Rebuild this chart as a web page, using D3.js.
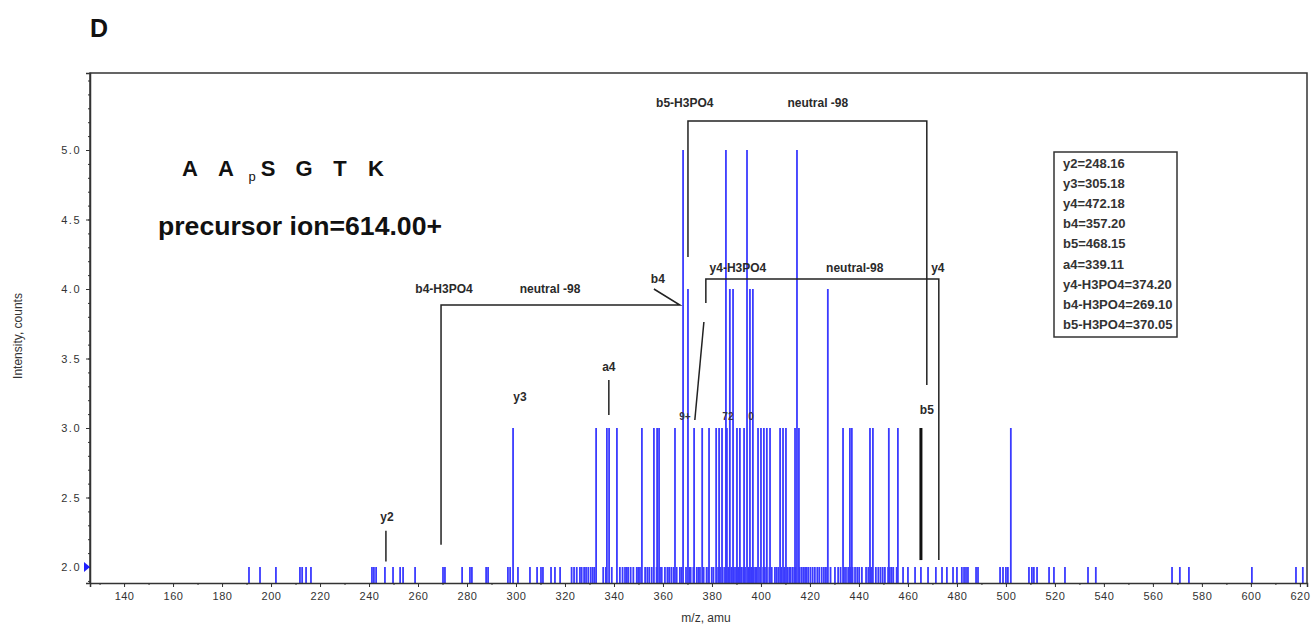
<!DOCTYPE html>
<html>
<head>
<meta charset="utf-8">
<script src="https://cdn.jsdelivr.net/npm/d3@7"></script>
<style>
  body { margin: 0; background: #fff; }
  text { font-family: "Liberation Sans", Arial, sans-serif; }
</style>
</head>
<body>
<div id="chart"></div>
<script>
//
// MS/MS spectrum of AApSGTK, stick plot with fragment annotations
//

// peak m/z values grouped by intensity level (counts)
const peaksAt2 = [191.0, 195.5, 202.0, 211.8, 212.7, 214.3, 216.3, 241.2, 242.0, 242.9, 246.5, 249.8,
  252.7, 253.9, 258.8, 270.2, 271.0, 278.0, 281.2, 282.0, 287.8, 288.6, 296.7, 297.6, 300.8, 305.7,
  308.6, 310.2, 311.0, 314.3, 315.9, 318.0, 322.7, 323.7, 324.8, 326.1, 326.8, 327.8, 328.6, 329.5,
  330.5, 331.3, 332.0, 335.6, 336.7, 339.1, 342.4, 343.5, 344.5, 345.2, 345.8, 346.8, 347.9, 349.3,
  349.9, 350.6, 352.7, 353.6, 354.4, 355.4, 357.4, 358.8, 359.5, 360.8, 361.8, 362.5, 363.4, 364.3,
  365.6, 366.9, 367.6, 369.4, 370.8, 371.3, 372.4, 373.8, 374.5, 375.1, 376.6, 377.8, 378.5, 379.9,
  380.6, 381.9, 382.6, 383.3, 384.4, 385.3, 386.6, 387.9, 388.7, 389.4, 390.1, 390.7, 391.4, 392.1,
  392.8, 393.5, 394.8, 395.5, 396.2, 396.9, 397.6, 398.2, 399.6, 400.9, 401.6, 402.3, 403.4, 404.4,
  405.7, 406.4, 407.1, 408.3, 409.5, 410.7, 411.5, 412.1, 412.9, 413.6, 414.1, 415.8, 416.6, 417.3,
  418.0, 418.6, 419.3, 420.2, 421.1, 422.0, 423.0, 423.8, 424.8, 425.7, 426.5, 427.1, 428.4, 430.2,
  431.5, 432.5, 433.9, 434.7, 435.6, 436.4, 437.4, 438.4, 439.3, 440.1, 441.2, 442.9, 443.8, 444.8,
  445.3, 446.9, 447.9, 448.8, 449.7, 450.6, 451.9, 452.6, 453.3, 454.0, 455.4, 458.0, 460.0, 462.9,
  465.3, 468.2, 471.4, 473.9, 475.9, 478.4, 480.0, 482.0, 482.9, 483.7, 484.5, 487.8, 488.6, 497.6,
  498.8, 500.0, 500.8, 509.4, 510.6, 511.4, 512.7, 517.6, 519.6, 524.1, 533.5, 536.7, 567.8, 571.0,
  574.7, 600.4, 618.4, 621.2]
const peaksAt3 = [298.8, 332.7, 337.1, 338.0, 341.2, 351.4, 356.3, 357.6, 358.4, 364.9, 372.7, 376.0,
  378.8, 381.7, 382.9, 384.1, 386.1, 390.2, 391.4, 393.1, 398.8, 400.0, 401.2, 402.4, 403.7, 407.8,
  409.0, 410.2, 413.9, 415.5, 433.5, 436.3, 437.1, 444.5, 445.7, 452.2, 455.9, 502.0]
const peaksAt4 = [370.2, 387.3, 388.6, 395.5, 396.7, 427.3]
const peaksAt5 = [368.2, 385.7, 394.3, 414.7]

// axis ticks
const xTicks = d3.range(140, 621, 20)
const xMinor = d3.range(130, 621, 10)
const yTicks = [2.0, 2.5, 3.0, 3.5, 4.0, 4.5, 5.0]
const yMinor = d3.range(19, 56).map(d => d / 10)

// fragment ion list shown in the box
const ionList = ["y2=248.16", "y3=305.18", "y4=472.18", "b4=357.20", "b5=468.15", "a4=339.11",
  "y4-H3PO4=374.20", "b4-H3PO4=269.10", "b5-H3PO4=370.05"]

// annotation polylines, in [m/z, intensity]
const annoLines = [
  [[246.9, 2.04], [246.9, 2.26]],                                   // y2
  [[269.4, 2.16], [269.4, 3.885], [366.9, 3.885], [356.3, 4.0]],    // b4-H3PO4 -> b4
  [[337.9, 3.094], [337.9, 3.345]],                                 // a4
  [[370.2, 4.23], [370.2, 5.209], [467.7, 5.209], [467.7, 3.31]],   // b5-H3PO4 -> b5
  [[377.5, 3.9], [377.5, 4.072], [472.6, 4.072], [472.6, 2.05]],    // y4-H3PO4 -> y4
  [[376.7, 3.763], [373.0, 3.058]]
]
const annoLabels = [
  ["y2", 247.3, 2.36], ["b4-H3PO4", 270.6, 4.0], ["neutral -98", 313.9, 4.0], ["b4", 357.9, 4.07],
  ["a4", 337.9, 3.44], ["y3", 301.6, 3.22], ["b5-H3PO4", 368.9, 5.338], ["neutral -98", 423.2, 5.338],
  ["b5", 467.7, 3.13], ["y4-H3PO4", 390.6, 4.151], ["neutral-98", 438.3, 4.151], ["y4", 472.2, 4.151]
]
const faintLabels = [["9+", 369.0, 3.08], ["72", 386.5, 3.08], ["0", 395.9, 3.08]]

// peptide sequence letters (p = phospho marker)
const seqLetters = ["A", "A", "p", "S", "G", "T", "K"]
const seqX = [190, 226, 252, 268, 304, 340, 376]

const W = 1312, H = 625
const plot = { left: 90, right: 1307, top: 73, bottom: 583 }

const svg = d3.select("#chart").append("svg")
  .attr("width", W).attr("height", H)

const x = d3.scaleLinear().domain([126.1, 622.9]).range([plot.left, plot.right])
const y = d3.scaleLinear().domain([1.885, 5.554]).range([plot.bottom, plot.top])

// frame
svg.append("path")
  .attr("d", `M${plot.left},${plot.bottom}V${plot.top}H${plot.right}V${plot.bottom}`)
  .attr("fill", "none").attr("stroke", "#333").attr("stroke-width", 1.5)

// peaks
const peaks = []
peaksAt2.forEach(m => peaks.push({ mz: m, v: 2.0 }))
peaksAt3.forEach(m => peaks.push({ mz: m, v: 3.0 }))
peaksAt4.forEach(m => peaks.push({ mz: m, v: 4.0 }))
peaksAt5.forEach(m => peaks.push({ mz: m, v: 5.0 }))

svg.append("g").selectAll("line")
  .data(peaks)
  .enter()
  .append("line")
    .attr("x1", d => x(d.mz)).attr("x2", d => x(d.mz))
    .attr("y1", y(1.885)).attr("y2", d => y(d.v))
    .attr("stroke", "#3b3bff").attr("stroke-width", 1.8)

// axes
const xAxis = svg.append("g")
  .attr("transform", `translate(0,${plot.bottom})`)
  .call(d3.axisBottom(x).tickValues(xTicks).tickSize(4).tickFormat(d3.format("d")))
svg.append("g")
  .attr("transform", `translate(0,${plot.bottom})`)
  .call(d3.axisBottom(x).tickValues(xMinor).tickSize(2).tickFormat(""))
  .call(g => g.select(".domain").remove())
const yAxis = svg.append("g")
  .attr("transform", `translate(${plot.left},0)`)
  .call(d3.axisLeft(y).tickValues(yTicks).tickSize(4).tickFormat(d3.format(".1f")))
svg.append("g")
  .attr("transform", `translate(${plot.left},0)`)
  .call(d3.axisLeft(y).tickValues(yMinor).tickSize(2).tickFormat(""))
  .call(g => g.select(".domain").remove())

svg.selectAll(".domain").attr("stroke", "#333").attr("stroke-width", 1.5)
svg.selectAll(".tick line").attr("stroke", "#333")
xAxis.selectAll("text")
  .attr("dy", "0.9em")
  .style("font-size", "11px").style("fill", "#333").style("letter-spacing", "0.5px")
yAxis.selectAll("text")
  .attr("dx", "-2px")
  .style("font-size", "11px").style("fill", "#333").style("letter-spacing", "1.5px")

// blue marker on the y axis
svg.append("path")
  .attr("d", `M${plot.left - 6},${y(2.0) - 5}L${plot.left},${y(2.0)}L${plot.left - 6},${y(2.0) + 5}Z`)
  .attr("fill", "#2020ff")

// axis titles
svg.append("text")
  .attr("transform", `translate(22,${(plot.top + plot.bottom) / 2 + 8}) rotate(-90)`)
  .attr("text-anchor", "middle")
  .style("font-size", "12px").style("fill", "#333")
  .text("Intensity, counts")
svg.append("text")
  .attr("x", 706).attr("y", 622)
  .attr("text-anchor", "middle")
  .style("font-size", "12px").style("fill", "#333")
  .text("m/z, amu")

// annotations
const line = d3.line().x(d => x(d[0])).y(d => y(d[1]))
svg.append("g").selectAll("path")
  .data(annoLines)
  .enter()
  .append("path")
    .attr("d", line)
    .attr("fill", "none").attr("stroke", "#222").attr("stroke-width", 1.5)

// b5 marker stick
svg.append("line")
  .attr("x1", x(465.3)).attr("x2", x(465.3))
  .attr("y1", y(3.0)).attr("y2", y(2.05))
  .attr("stroke", "#111").attr("stroke-width", 3)

svg.append("g").selectAll("text")
  .data(annoLabels)
  .enter()
  .append("text")
    .attr("x", d => x(d[1])).attr("y", d => y(d[2]))
    .attr("text-anchor", "middle").attr("dominant-baseline", "central")
    .style("font-size", "12px").style("font-weight", "bold").style("fill", "#2a2a2a")
    .text(d => d[0])

svg.append("g").selectAll("text")
  .data(faintLabels)
  .enter()
  .append("text")
    .attr("x", d => x(d[1])).attr("y", d => y(d[2]))
    .attr("text-anchor", "middle").attr("dominant-baseline", "central")
    .style("font-size", "10px").style("font-weight", "bold").style("fill", "#334")
    .text(d => d[0])

// panel letter, sequence and precursor
svg.append("text")
  .attr("x", 90).attr("y", 37)
  .style("font-size", "25px").style("font-weight", "bold").style("fill", "#111")
  .text("D")

svg.append("g").selectAll("text")
  .data(seqLetters)
  .enter()
  .append("text")
    .attr("x", (d, i) => seqX[i])
    .attr("y", d => d === "p" ? 181 : 176)
    .attr("text-anchor", "middle")
    .style("font-size", d => d === "p" ? "13px" : "22px")
    .style("font-weight", d => d === "p" ? "normal" : "bold")
    .style("fill", "#111")
    .text(d => d)

svg.append("text")
  .attr("x", 158).attr("y", 235)
  .attr("textLength", 284).attr("lengthAdjust", "spacingAndGlyphs")
  .style("font-size", "26px").style("font-weight", "bold").style("fill", "#111")
  .text("precursor ion=614.00+")

// ion list box
const box = { x: 1054, y: 152, w: 123, h: 185 }
svg.append("clipPath").attr("id", "boxclip")
  .append("rect").attr("x", box.x).attr("y", box.y).attr("width", box.w).attr("height", box.h)
const boxG = svg.append("g")
boxG.append("rect")
  .attr("x", box.x).attr("y", box.y).attr("width", box.w).attr("height", box.h)
  .attr("fill", "#fff").attr("stroke", "#333").attr("stroke-width", 1.5)
boxG.append("g").attr("clip-path", "url(#boxclip)")
  .selectAll("text")
  .data(ionList)
  .enter()
  .append("text")
    .attr("x", box.x + 9)
    .attr("y", (d, i) => 163 + i * 20.2)
    .attr("dominant-baseline", "central")
    .style("font-size", "13px").style("font-weight", "bold").style("fill", "#333")
    .text(d => d)
</script>
</body>
</html>
